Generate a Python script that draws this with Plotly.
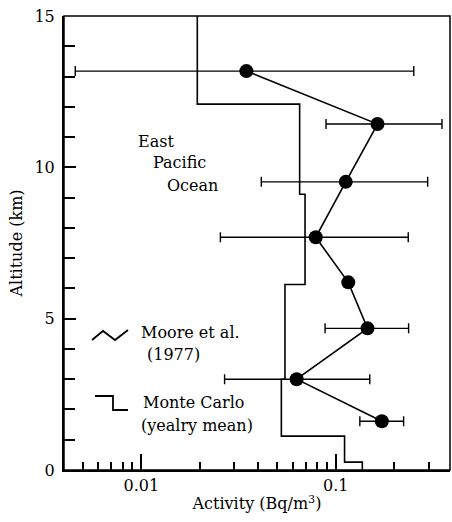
import numpy as np
import plotly.graph_objects as go

# Moore et al. (1977) measurements
moore_alt = [13.18, 11.43, 9.52, 7.69, 6.20, 4.68, 3.00, 1.61]
moore_act = [0.0347, 0.164, 0.1126, 0.0789, 0.116, 0.1457, 0.0629, 0.1726]
moore_lo = [0.00457, 0.0891, 0.0414, 0.0255, 0.116, 0.0881, 0.0268, 0.133]
moore_hi = [0.252, 0.352, 0.297, 0.236, 0.116, 0.237, 0.1496, 0.2234]

# Monte Carlo (yearly mean) step profile
mc_act = [0.0194, 0.0194, 0.0652, 0.0652, 0.0695, 0.0695, 0.0548, 0.0548,
          0.0525, 0.0525, 0.111, 0.111, 0.137, 0.137]
mc_alt = [15.0, 12.09, 12.09, 9.11, 9.11, 6.13, 6.13, 3.0,
          3.0, 1.12, 1.12, 0.26, 0.26, 0.0]

x_major = [0.01, 0.1]
x_major_text = ["0.01", "0.1"]
x_minor = [0.005, 0.006, 0.007, 0.008, 0.009, 0.02, 0.03, 0.04, 0.05,
           0.06, 0.07, 0.08, 0.09, 0.2, 0.3]
y_major = [0, 5, 10, 15]

FONT = "DejaVu Serif"
W, H = 452, 522
L, R, T, B = 64, 2, 16, 52
PW, PH = W - L - R, H - T - B


def px(x):
    return (x - L) / PW


def py(y):
    return (H - B - y) / PH


fig = go.Figure()

fig.add_trace(go.Scatter(
    x=mc_act, y=mc_alt, mode="lines",
    line=dict(color="black", width=1.6), showlegend=False))

err_plus = [h - a for h, a in zip(moore_hi, moore_act)]
err_minus = [a - l for a, l in zip(moore_act, moore_lo)]
fig.add_trace(go.Scatter(
    x=moore_act, y=moore_alt, mode="lines+markers",
    line=dict(color="black", width=1.6),
    marker=dict(color="black", size=14),
    error_x=dict(type="data", array=err_plus, arrayminus=err_minus,
                 color="black", thickness=1.4, width=5),
    showlegend=False))

# frame (top and right)
fig.add_shape(type="rect", xref="paper", yref="paper", x0=0, x1=1, y0=0, y1=1,
              line=dict(color="black", width=1.5))

# legend glyphs
zig = [(92, 340), (103, 331), (115, 340), (128, 330)]
stp = [(95, 396), (113, 396), (113, 410), (128, 410)]
for pts in (zig, stp):
    path = "M " + " L ".join(f"{px(a):.4f},{py(b):.4f}" for a, b in pts)
    fig.add_shape(type="path", xref="paper", yref="paper", path=path,
                  line=dict(color="black", width=1.8))

texts = [
    ("East", 136, 141, "left"),
    ("Pacific", 151, 163, "left"),
    ("Ocean", 165, 185, "left"),
    ("Moore et al.", 139, 332, "left"),
    ("(1977)", 173, 355, "center"),
    ("Monte Carlo", 141, 402, "left"),
    ("(yealry mean)", 139, 425, "left"),
]
for t, x, y, al in texts:
    fig.add_annotation(text=t, xref="paper", yref="paper", x=px(x), y=py(y),
                       xanchor=al, yanchor="middle", showarrow=False,
                       font=dict(family=FONT, size=16, color="black"))

fig.update_xaxes(
    type="log", range=[np.log10(0.004), np.log10(0.387)],
    tickmode="array", tickvals=x_major, ticktext=x_major_text,
    ticks="inside", ticklen=16, tickwidth=1.5, tickcolor="black",
    minor=dict(tickmode="array", tickvals=x_minor, ticks="inside",
               ticklen=8, tickwidth=1.5, tickcolor="black"),
    showline=True, linecolor="black", linewidth=2, mirror=False,
    showgrid=False, zeroline=False,
    tickfont=dict(family=FONT, size=16, color="black"),
    title=dict(text="Activity (Bq/m<sup>3</sup>)", standoff=4,
               font=dict(family=FONT, size=16, color="black")),
)
fig.update_yaxes(
    range=[0, 15], tickmode="array", tickvals=y_major,
    ticks="inside", ticklen=12, tickwidth=1.5, tickcolor="black",
    minor=dict(dtick=1, ticks="inside", ticklen=11, tickwidth=1.5,
               tickcolor="black"),
    showline=True, linecolor="black", linewidth=2,
    showgrid=False, zeroline=False,
    ticklabelstandoff=4,
    tickfont=dict(family=FONT, size=16, color="black"),
    title=dict(text="Altitude (km)", standoff=8,
               font=dict(family=FONT, size=16, color="black")),
)

fig.update_layout(
    width=W, height=H, margin=dict(l=L, r=R, t=T, b=B),
    plot_bgcolor="white", paper_bgcolor="white",
    font=dict(family=FONT, color="black"),
)

fig.write_html("out.html")
